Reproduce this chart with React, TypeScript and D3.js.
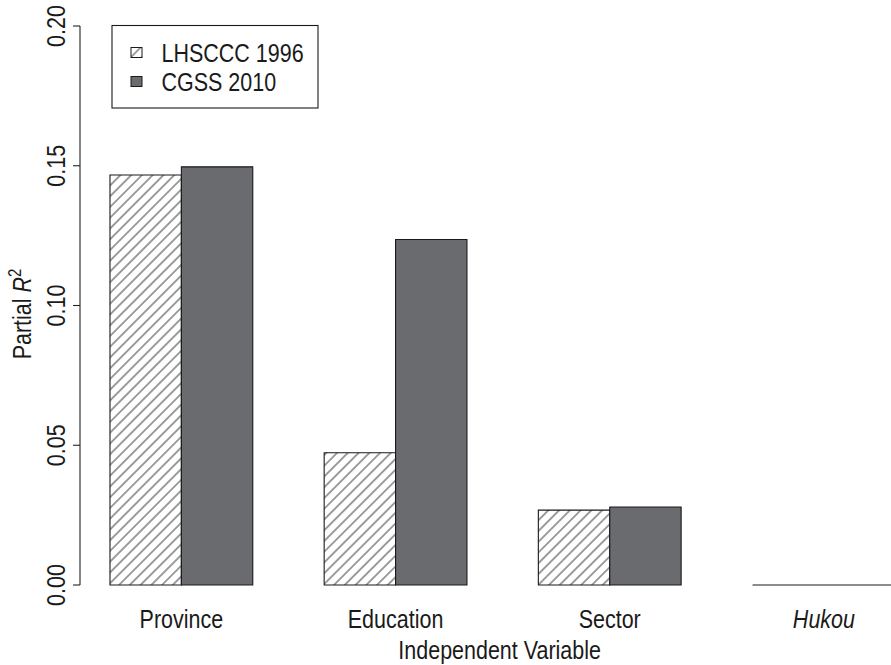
import React from "react";
import * as d3 from "d3";

const categories = ["Province", "Education", "Sector", "Hukou"];
const italicCats = ["Hukou"];
const series = ["LHSCCC 1996", "CGSS 2010"];
const lhscccValues = [0.1467, 0.0473, 0.0268, 0];
const cgssValues = [0.1496, 0.1236, 0.0279, 0];
const yTicks = [0, 0.05, 0.1, 0.15, 0.2];

const W = 891;
const H = 665;
const FONT = "'Liberation Sans', Arial, sans-serif";
const DARK = "#6a6b6f";
const SX = 0.86;
const FS = 25;
const TXT = "#1a1a1a";

function NText(props: {
  x: number;
  y: number;
  rotate?: number;
  anchor?: string;
  italic?: boolean;
  children: React.ReactNode;
}) {
  const { x, y, rotate = 0, anchor = "middle", italic = false, children } = props;
  return (
    <text
      transform={`translate(${x},${y}) rotate(${rotate}) scale(${SX},1)`}
      textAnchor={anchor}
      fontSize={FS}
      fill={TXT}
      fontStyle={italic ? "italic" : "normal"}
    >
      {children}
    </text>
  );
}

export default function App() {
  const x = d3.scaleLinear().domain([0.58, 12.42]).range([80, 925.3]);
  const y = d3.scaleLinear().domain([0, 0.2]).range([585, 26]);
  const values = [lhscccValues, cgssValues];

  const bars: { x0: number; x1: number; v: number; s: number }[] = [];
  categories.forEach((_, i) => {
    values.forEach((vals, s) => {
      const left = 1 + 3 * i + s;
      bars.push({ x0: x(left), x1: x(left + 1), v: vals[i], s });
    });
  });

  const barPath = (b: { x0: number; x1: number; v: number }) =>
    `M${b.x0},${y(0)}H${b.x1}V${y(b.v)}H${b.x0}Z`;

  const axisX = x.range()[0];

  return (
    <svg
      width={W}
      height={H}
      style={{ position: "absolute", left: 0, top: 0, background: "#fff" }}
      fontFamily={FONT}
    >
      <defs>
        <pattern
          id="hatch"
          patternUnits="userSpaceOnUse"
          width={7.6}
          height={20}
          patternTransform="rotate(45)"
        >
          <line x1={3.8} y1={-5} x2={3.8} y2={25} stroke="#4e4e4e" strokeWidth={1.1} />
        </pattern>
      </defs>
      <rect x={0} y={0} width={W} height={H} fill="#fff" />

      {/* bars */}
      <g>
        {bars.map((b, i) => (
          <path
            key={i}
            d={barPath(b)}
            fill={b.s === 0 ? "url(#hatch)" : DARK}
            stroke="#1a1a1a"
            strokeWidth={1.1}
          />
        ))}
      </g>

      {/* y axis */}
      <line x1={axisX} x2={axisX} y1={y(0)} y2={y(0.2)} stroke="#222" strokeWidth={1.1} />
      {yTicks.map((t) => (
        <g key={t}>
          <line x1={axisX - 7} x2={axisX} y1={y(t)} y2={y(t)} stroke="#222" strokeWidth={1.1} />
          <NText x={65} y={y(t)} rotate={-90}>
            {d3.format(".2f")(t)}
          </NText>
        </g>
      ))}
      <text
        transform={`translate(31,314) rotate(-90) scale(${SX},1)`}
        textAnchor="middle"
        fontSize={FS}
        fill={TXT}
      >
        <tspan>Partial </tspan>
        <tspan fontStyle="italic">R</tspan>
        <tspan fontSize={FS * 0.7} dy={-10}>2</tspan>
      </text>

      {/* category labels */}
      {categories.map((c, i) => (
        <NText key={c} x={x(2 + 3 * i)} y={627.5} italic={italicCats.includes(c)}>
          {c}
        </NText>
      ))}
      <NText x={x(6.5) - 3} y={659}>
        Independent Variable
      </NText>

      {/* legend */}
      <rect x={112} y={25.5} width={206} height={82.5} fill="#fff" stroke="#1a1a1a" strokeWidth={1.1} />
      {series.map((s, i) => {
        const cy = 52.5 + i * 29;
        return (
          <g key={s}>
            <rect
              x={131}
              y={cy - 5}
              width={11}
              height={10}
              fill={i === 0 ? "url(#hatch)" : DARK}
              stroke="#1a1a1a"
              strokeWidth={1}
            />
            <NText x={161.5} y={cy + 9} anchor="start">
              {s}
            </NText>
          </g>
        );
      })}
    </svg>
  );
}
